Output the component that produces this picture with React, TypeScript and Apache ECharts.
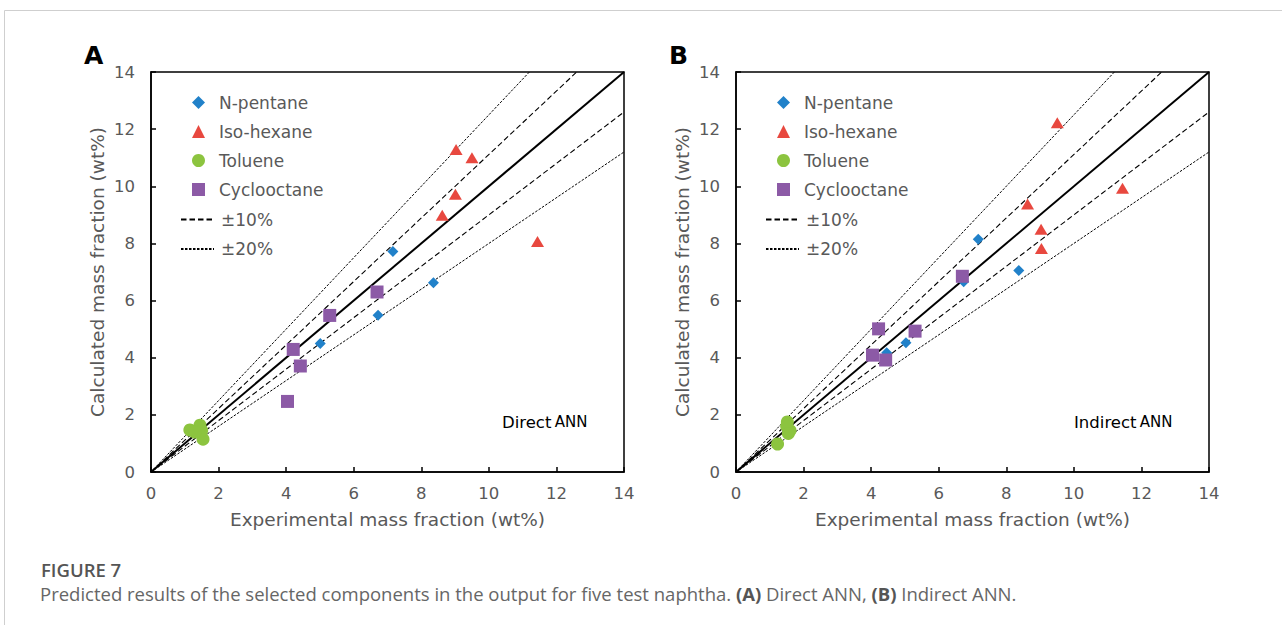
import React, { useEffect, useRef } from "react";
import * as echarts from "echarts";

// ---- Data (experimental, calculated) ----
const directNPentane = [[7.16, 7.72], [8.36, 6.62], [6.72, 5.49], [5.01, 4.5], [4.45, 3.75]];
const directIsoHexane = [[9.03, 11.29], [9.5, 11.0], [9.01, 9.72], [8.62, 8.99], [11.44, 8.07]];
const directToluene = [[1.15, 1.47], [1.54, 1.15], [1.45, 1.64], [1.5, 1.45], [1.3, 1.4]];
const directCyclooctane = [[6.69, 6.3], [5.29, 5.48], [4.21, 4.29], [4.42, 3.71], [4.04, 2.47]];

const indirectNPentane = [[7.17, 8.15], [8.37, 7.05], [6.74, 6.66], [5.03, 4.52], [4.46, 4.17]];
const indirectIsoHexane = [[9.51, 12.22], [11.44, 9.93], [8.63, 9.38], [9.03, 8.5], [9.04, 7.82]];
const indirectToluene = [[1.23, 0.98], [1.52, 1.75], [1.6, 1.45], [1.5, 1.6], [1.55, 1.35]];
const indirectCyclooctane = [[6.7, 6.85], [4.22, 5.01], [5.3, 4.93], [4.04, 4.09], [4.43, 3.92]];

// reference lines (endpoints)
const parityLine = [[0, 0], [14, 14]];
const plus10Line = [[0, 0], [12.6, 14]];
const minus10Line = [[0, 0], [14, 12.6]];
const plus20Line = [[0, 0], [11.2, 14]];
const minus20Line = [[0, 0], [14, 11.2]];

const axisTicks = [0, 2, 4, 6, 8, 10, 12, 14];
const markerNames = ["N-pentane", "Iso-hexane", "Toluene", "Cyclooctane"];
const lineNames = ["±10%", "±20%"];

const COLORS = {
  blue: "#2181c9",
  red: "#e8483f",
  green: "#8cc43f",
  purple: "#8c5aa6",
};

const FONT = "'DejaVu Sans', Verdana, sans-serif";
const GRAY = "#595959";

function panelSeries(idx: number, np: number[][], ih: number[][], tol: number[][], cyc: number[][]) {
  const lineBase = (name: string, data: number[][], type: any, width: number) => ({
    type: "line",
    name,
    xAxisIndex: idx,
    yAxisIndex: idx,
    data,
    symbol: "none",
    silent: true,
    itemStyle: { color: "rgba(0,0,0,0)", borderWidth: 0 },
    lineStyle: { color: "#000", width, type },
    z: 2,
  });
  const sc = (name: string, data: number[][], symbol: string, size: any, color: string) => ({
    type: "scatter",
    name,
    xAxisIndex: idx,
    yAxisIndex: idx,
    data,
    symbol,
    symbolSize: size,
    itemStyle: { color, opacity: 1 },
    z: 3,
  });
  return [
    lineBase("parity", parityLine, "solid", 2),
    lineBase("±10%", plus10Line, [5.5, 3], 1.1),
    lineBase("±10%", minus10Line, [5.5, 3], 1.1),
    lineBase("±20%", plus20Line, [2.5, 1.5], 1),
    lineBase("±20%", minus20Line, [2.5, 1.5], 1),
    sc("N-pentane", np, "diamond", 11, COLORS.blue),
    sc("Iso-hexane", ih, "triangle", [13, 11], COLORS.red),
    sc("Toluene", tol, "circle", 13, COLORS.green),
    sc("Cyclooctane", cyc, "rect", 13, COLORS.purple),
  ];
}

function axisCommon(name: string, isY: boolean, idx: number) {
  return {
    type: "value",
    gridIndex: idx,
    min: axisTicks[0],
    max: axisTicks[axisTicks.length - 1],
    interval: 2,
    name,
    nameLocation: "middle",
    nameGap: isY ? 44 : 38,
    nameTextStyle: { fontFamily: FONT, fontSize: 18.5, color: GRAY },
    axisLine: { show: true, onZero: false, lineStyle: { color: "#000", width: 1.5 } },
    axisTick: { show: true, inside: true, length: 5, lineStyle: { color: "#000", width: 1.5 } },
    axisLabel: { fontFamily: FONT, fontSize: 16.5, color: GRAY, margin: isY ? 16 : 13 },
    splitLine: { show: false },
  };
}

export default function App() {
  const ref = useRef<HTMLDivElement>(null);
  useEffect(() => {
    if (!ref.current) return;
    const chart = echarts.init(ref.current, undefined, { renderer: "svg" });
    const textStyle = { fontFamily: FONT, fontSize: 17, color: GRAY };
    const markerLegend = (left: number) => ({
      orient: "vertical",
      left,
      top: 94,
      padding: 0,
      data: markerNames,
      itemWidth: 13,
      itemHeight: 13,
      itemGap: 12,
      selectedMode: false,
      textStyle: { ...textStyle, padding: [0, 0, 0, 9] },
    });
    const lineLegend = (left: number) => ({
      orient: "vertical",
      left,
      top: 211,
      padding: 0,
      data: lineNames.map((n) => ({ name: n, itemStyle: { opacity: 0 } })),
      itemWidth: 33,
      itemHeight: 13,
      itemGap: 12.5,
      selectedMode: false,
      textStyle: { ...textStyle, padding: [0, 0, 0, 2] },
    });
    const annText = (x: number, first: string) => ({
      type: "text", x, y: 422,
      style: {
        text: `{a|${first}} {b|ANN}`, verticalAlign: "middle",
        rich: {
          a: { fontFamily: FONT, fontSize: 16.5, fill: "#000", color: "#000" },
          b: { fontFamily: FONT, fontSize: 15, fill: "#000", color: "#000" },
        },
      },
    });
    chart.setOption({
      animation: false,
      backgroundColor: "#fff",
      grid: [
        { left: 151, top: 72, width: 473, height: 400, show: true, borderColor: "#000", borderWidth: 1.5, backgroundColor: "transparent" },
        { left: 736, top: 72, width: 473, height: 400, show: true, borderColor: "#000", borderWidth: 1.5, backgroundColor: "transparent" },
      ],
      xAxis: [
        axisCommon("Experimental mass fraction (wt%)", false, 0),
        axisCommon("Experimental mass fraction (wt%)", false, 1),
      ],
      yAxis: [
        axisCommon("Calculated mass fraction (wt%)", true, 0),
        axisCommon("Calculated mass fraction (wt%)", true, 1),
      ],
      legend: [markerLegend(192), lineLegend(180), markerLegend(777), lineLegend(765)],
      series: [
        ...panelSeries(0, directNPentane, directIsoHexane, directToluene, directCyclooctane),
        ...panelSeries(1, indirectNPentane, indirectIsoHexane, indirectToluene, indirectCyclooctane),
      ],
      graphic: [
        { type: "line", shape: { x1: 4.5, y1: 10.5, x2: 1282, y2: 10.5 }, style: { stroke: "#cfcfcf", lineWidth: 1 } },
        { type: "line", shape: { x1: 4.5, y1: 10.5, x2: 4.5, y2: 625 }, style: { stroke: "#cfcfcf", lineWidth: 1 } },
        { type: "text", x: 84, y: 55, style: { text: "A", font: `bold 25px ${FONT}`, fill: "#000", verticalAlign: "middle" } },
        { type: "text", x: 669, y: 55, style: { text: "B", font: `bold 25px ${FONT}`, fill: "#000", verticalAlign: "middle" } },
        annText(502, "Direct"),
        annText(1074, "Indirect"),
        { type: "text", x: 41, y: 569, style: { text: "FIGURE 7", font: `600 18.5px 'Open Sans', sans-serif`, fill: "#555", verticalAlign: "middle" } },
        {
          type: "text", x: 40, y: 593,
          style: {
            text: "Predicted results of the selected components in the output for five test naphtha. {b|(A)} Direct ANN, {b|(B)} Indirect ANN.",
            font: `18.5px 'Open Sans', sans-serif`, fill: "#666", verticalAlign: "middle",
            rich: { b: { fontFamily: "'Open Sans', sans-serif", fontSize: 18.5, fontWeight: "bold", fill: "#555", color: "#555" } },
          },
        },
      ],
    });
    return () => chart.dispose();
  }, []);
  return (
    <div style={{ position: "fixed", left: 0, top: 0, width: 1282, height: 625, background: "#fff" }}>
      <div ref={ref} style={{ width: 1282, height: 625 }} />
    </div>
  );
}
